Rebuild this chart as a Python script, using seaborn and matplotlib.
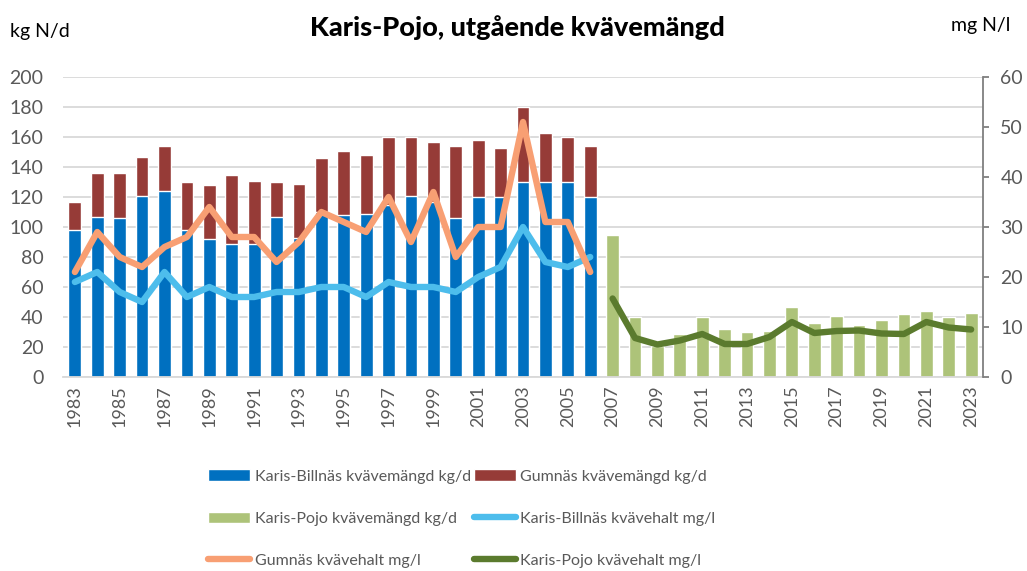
import matplotlib
matplotlib.use("Agg")
import matplotlib.pyplot as plt
import seaborn as sns
import numpy as np
import pandas as pd
from matplotlib.patches import Patch
from matplotlib.lines import Line2D

years = list(range(1983, 2024))

# Karis-Billnäs kvävemängd kg/d (1983-2006)
kb_kg = [98, 107, 106, 121, 124, 98, 92, 89, 89, 107, 93, 110,
         108, 109, 115, 121, 117, 106, 120, 120, 130, 130, 130, 120]
# Gumnäs kvävemängd kg/d (1983-2006)
g_kg = [19, 29, 30, 26, 30, 32, 36, 46, 42, 23, 36, 36,
        43, 39, 45, 39, 40, 48, 38, 33, 50, 33, 30, 34]
# Karis-Pojo kvävemängd kg/d (2007-2023)
kp_kg = [95, 40, 21, 29, 40, 32, 30, 31, 47, 36, 41, 35, 38, 42, 44, 40, 43]

# Karis-Billnäs kvävehalt mg/l (1983-2006)
kb_mg = [19, 21, 17, 15, 21, 16, 18, 16, 16, 17, 17, 18,
         18, 16, 19, 18, 18, 17, 20, 22, 30, 23, 22, 24]
# Gumnäs kvävehalt mg/l (1983-2006)
g_mg = [21, 29, 24, 22, 26, 28, 34, 28, 28, 23, 27, 33,
        31, 29, 36, 27, 37, 24, 30, 30, 51, 31, 31, 21]
# Karis-Pojo kvävehalt mg/l (2007-2023)
kp_mg = [15.7, 7.8, 6.5, 7.3, 8.6, 6.6, 6.6, 8.0, 11.0, 8.8, 9.2,
         9.3, 8.7, 8.6, 11.0, 9.9, 9.5]

n_old = len(kb_kg)
n_new = len(kp_kg)
pad_new = [np.nan] * n_old
pad_old = [np.nan] * n_new

df = pd.DataFrame({
    "year": [str(y) for y in years],
    "pos": np.arange(len(years)),
    "kb_kg": kb_kg + pad_old,
    "g_kg": g_kg + pad_old,
    "kp_kg": pad_new + kp_kg,
    "kb_mg": kb_mg + pad_old,
    "g_mg": g_mg + pad_old,
    "kp_mg": pad_new + kp_mg,
})
df["tot_kg"] = df["kb_kg"] + df["g_kg"]

C_BLUE = "#0070C0"
C_RED = "#963B37"
C_GREEN = "#ADC379"
C_LBLUE = "#4DBDEC"
C_ORANGE = "#F89F73"
C_DGREEN = "#5B7B2E"
C_TXT = "#595959"

sns.set_theme(style="white")
FONT = ["Lato", "DejaVu Sans"]
plt.rcParams["font.family"] = FONT

fig = plt.figure(figsize=(10.27, 5.71), dpi=100)
ax = fig.add_axes([63 / 1027, 1 - 377 / 571, 920 / 1027, 300 / 571])

order = df["year"].tolist()
bw = 0.57
sns.barplot(data=df, x="year", y="tot_kg", order=order, color=C_RED,
            width=bw, saturation=1, ax=ax, errorbar=None)
sns.barplot(data=df, x="year", y="kb_kg", order=order, color=C_BLUE,
            width=bw, saturation=1, ax=ax, errorbar=None)
sns.barplot(data=df, x="year", y="kp_kg", order=order, color=C_GREEN,
            width=bw, saturation=1, ax=ax, errorbar=None)

ax.set_xlim(-0.53, len(years) - 0.47)
ax.set_ylim(0, 200)
ax.set_yticks(np.arange(0, 201, 20))
ax.yaxis.grid(True, color="#D9D9D9", linewidth=1.3)
ax.set_axisbelow(True)
ax.set_xlabel("")
ax.set_ylabel("")
for s in ["top", "right", "left"]:
    ax.spines[s].set_visible(False)
ax.spines["bottom"].set_color("#D9D9D9")
ax.spines["bottom"].set_linewidth(1.3)
ax.tick_params(axis="y", length=0, pad=14, labelsize=14, labelcolor=C_TXT)
ax.set_xticks(np.arange(0, len(years), 2))
ax.set_xticklabels([str(y) for y in years[::2]], rotation=90)
ax.tick_params(axis="x", length=0, pad=6, labelsize=13, labelcolor=C_TXT)

ax2 = ax.twinx()
lw = 4.6
sns.lineplot(data=df, x="pos", y="kb_mg", color=C_LBLUE, linewidth=lw, ax=ax2,
             solid_capstyle="round", solid_joinstyle="round")
sns.lineplot(data=df, x="pos", y="g_mg", color=C_ORANGE, linewidth=lw, ax=ax2,
             solid_capstyle="round", solid_joinstyle="round")
sns.lineplot(data=df, x="pos", y="kp_mg", color=C_DGREEN, linewidth=lw, ax=ax2,
             solid_capstyle="round", solid_joinstyle="round")
ax2.set_ylim(0, 60)
ax2.set_yticks(np.arange(0, 61, 10))
ax2.set_xlim(ax.get_xlim())
ax2.set_xlabel("")
ax2.set_ylabel("")
ax2.grid(False)
for s in ["top", "left", "bottom"]:
    ax2.spines[s].set_visible(False)
ax2.spines["right"].set_color("#7F7F7F")
ax2.spines["right"].set_linewidth(1.3)
ax2.tick_params(axis="y", which="both", right=True, direction="out", length=4.5,
                width=1.3, color="#7F7F7F", pad=8, labelsize=14, labelcolor=C_TXT)

fig.text(517 / 1027, 1 - 28 / 571, "Karis-Pojo, utgående kvävemängd",
         ha="center", va="center", fontsize=19.5, fontweight=900, color="black")
fig.text(10 / 1027, 1 - 32 / 571, "kg N/d", ha="left", va="center",
         fontsize=14, color="black")
fig.text(1010 / 1027, 1 - 25 / 571, "mg N/l", ha="right", va="center",
         fontsize=14, color="black")

h_kb = Patch(facecolor=C_BLUE, label="Karis-Billnäs kvävemängd kg/d")
h_g = Patch(facecolor=C_RED, label="Gumnäs kvävemängd kg/d")
h_kp = Patch(facecolor=C_GREEN, label="Karis-Pojo kvävemängd kg/d")
l_kb = Line2D([], [], color=C_LBLUE, linewidth=lw, solid_capstyle="round",
              label="Karis-Billnäs kvävehalt mg/l")
l_g = Line2D([], [], color=C_ORANGE, linewidth=lw, solid_capstyle="round",
             label="Gumnäs kvävehalt mg/l")
l_kp = Line2D([], [], color=C_DGREEN, linewidth=lw, solid_capstyle="round",
              label="Karis-Pojo kvävehalt mg/l")
handles = [h_kb, h_kp, l_g, h_g, l_kb, l_kp]
leg = fig.legend(handles=handles, labels=[h.get_label() for h in handles],
                 ncol=2, loc="upper left", bbox_to_anchor=(202 / 1027, 1 - 463 / 571),
                 frameon=False, fontsize=11.5, handlelength=2.6, handletextpad=0.3,
                 columnspacing=0.2, labelspacing=1.75, borderaxespad=0)
for t in leg.get_texts():
    t.set_color(C_TXT)

fig.savefig("out.png", dpi=100)
